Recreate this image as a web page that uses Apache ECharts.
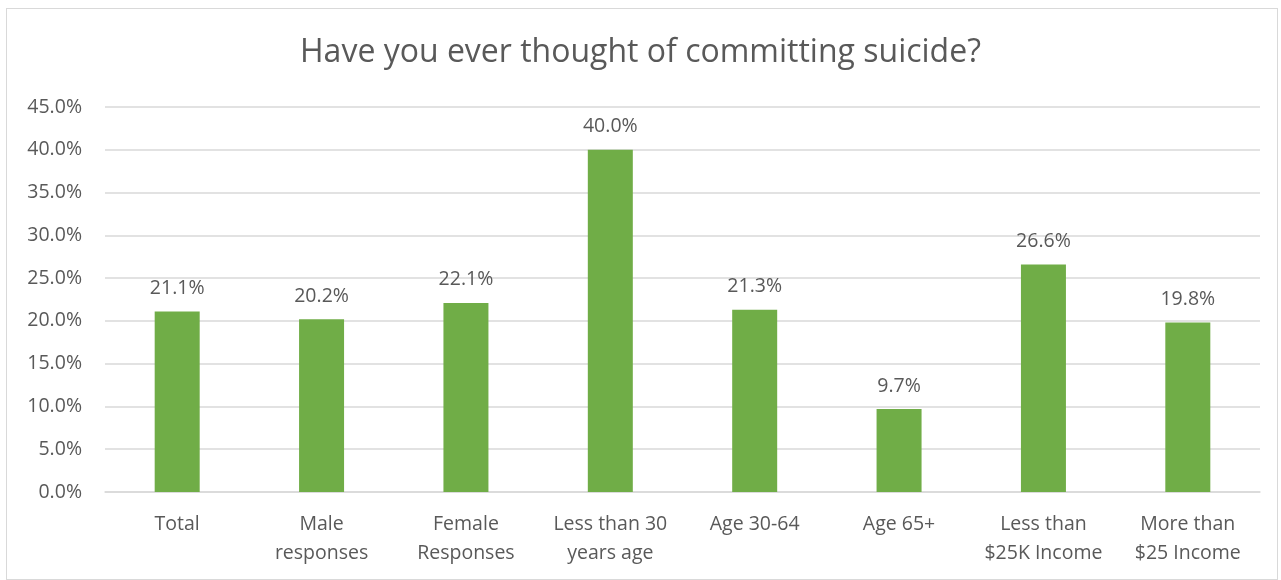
<!DOCTYPE html>
<html>
<head>
<meta charset="utf-8">
<script src="https://cdn.jsdelivr.net/npm/echarts@6/dist/echarts.min.js"></script>
<style>
  html, body { margin: 0; padding: 0; background: #fff; }
  #frame { position: absolute; left: 6px; top: 8px; width: 1272px; height: 572px; border: 1px solid #d9d9d9; box-sizing: border-box; }
  #chart { position: absolute; left: 0; top: 0; width: 1281px; height: 580px; }
</style>
</head>
<body>
<div id="frame"></div>
<div id="chart"></div>
<script>
const categories = [
  'Total', 'Male\nresponses', 'Female\nResponses', 'Less than 30\nyears age',
  'Age 30-64', 'Age 65+', 'Less than\n$25K Income', 'More than\n$25 Income'
];
const values = [21.1, 20.2, 22.1, 40.0, 21.3, 9.7, 26.6, 19.8];
const titleText = 'Have you ever thought of committing suicide?';

const FONT = '"Open Sans", "Noto Sans", sans-serif';
const TEXT = '#595959';

const chart = echarts.init(document.getElementById('chart'), null, { renderer: 'canvas' });
chart.setOption({
  animation: false,
  backgroundColor: 'transparent',
  title: {
    text: titleText,
    left: 'center',
    top: 32,
    textStyle: { fontFamily: FONT, fontSize: 32, fontWeight: 'normal', color: TEXT }
  },
  grid: { left: 105, right: 21, top: 107, bottom: 88, containLabel: false },
  xAxis: {
    type: 'category',
    data: categories,
    axisLine: { show: true, lineStyle: { color: '#d9d9d9', width: 1.5 } },
    axisTick: { show: false },
    axisLabel: {
      fontFamily: FONT, fontSize: 19.5, color: TEXT, lineHeight: 29, margin: 18, interval: 0
    }
  },
  yAxis: {
    type: 'value',
    min: 0,
    max: 45,
    interval: 5,
    axisLine: { show: false },
    axisTick: { show: false },
    splitLine: { lineStyle: { color: '#d9d9d9', width: 1.5 } },
    axisLabel: {
      fontFamily: FONT, fontSize: 19.5, color: TEXT, margin: 23,
      formatter: v => v.toFixed(1) + '%'
    }
  },
  series: [{
    type: 'bar',
    data: values,
    barWidth: 45,
    itemStyle: { color: '#70AD47' },
    label: {
      show: true,
      position: 'top',
      distance: 13,
      fontFamily: FONT, fontSize: 19.5, color: TEXT,
      formatter: p => p.value.toFixed(1) + '%'
    }
  }]
});
</script>
</body>
</html>
